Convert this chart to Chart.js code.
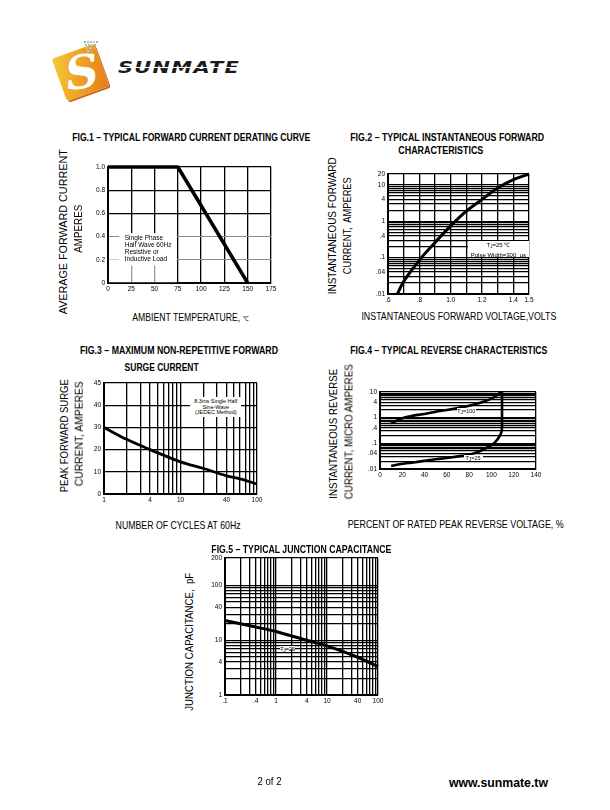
<!DOCTYPE html>
<html><head><meta charset="utf-8">
<script src="https://cdn.jsdelivr.net/npm/chart.js@4.4.1/dist/chart.umd.min.js"></script>
<style>
html,body{margin:0;padding:0;background:#fff;}
body{width:610px;height:810px;position:relative;overflow:hidden;font-family:"Liberation Sans",Arial,sans-serif;color:#000;}
.t{position:absolute;white-space:nowrap;line-height:1;}
canvas{position:absolute;}
.note{position:absolute;font-size:6.5px;line-height:7px;white-space:nowrap;font-family:"Liberation Sans",Arial,sans-serif;}
.sub{font-size:4.5px;vertical-align:-1px;}
</style></head><body>
<div id="logo">
  <div style="position:absolute;left:58px;top:50px;width:45px;height:45px;transform:rotate(-20deg);border-radius:3px;background:linear-gradient(115deg,#f6c93a 0%,#f0a828 40%,#e47d1c 100%);box-shadow:1px 2px 0 #c8661a;"></div>
  <div style="position:absolute;left:61px;top:46px;width:42px;height:52px;font-family:'DejaVu Serif',serif;font-weight:bold;font-style:italic;font-size:46px;line-height:52px;color:#fff;text-align:center;transform:rotate(-8deg);">S</div>
  <div id="dots"></div>
  <div id="brand" style="position:absolute;left:118px;top:60px;font-family:'DejaVu Sans',sans-serif;font-weight:bold;font-style:italic;font-size:16px;line-height:16px;letter-spacing:1px;color:#1b1b1b;transform-origin:left top;">SUNMAT<span style="color:#1b1b1b">E</span></div>
  <div style="position:absolute;left:118px;top:67px;width:124px;height:1px;background:#fff;"></div>
</div>
<script>
// ---------------- DATA ----------------
// Fig.1 forward current derating
const fig1Temp = [0, 75, 150];
const fig1Current = [1.0, 1.0, 0];
const fig1XTicks = [0, 25, 50, 75, 100, 125, 150, 175];
const fig1XLabels = ['0', '25', '50', '75', '100', '125', '150', '175'];
const fig1YTicks = [0, 0.2, 0.4, 0.6, 0.8, 1.0];
const fig1YLabels = ['0', '0.2', '0.4', '0.6', '0.8', '1.0'];

// Fig.2 instantaneous forward characteristics
const fig2Volt = [0.66, 0.7, 0.8, 0.9, 1.0, 1.1, 1.2, 1.3, 1.4, 1.5];
const fig2Amp = [0.01, 0.022, 0.085, 0.26, 0.75, 1.9, 4.0, 8.2, 14, 20];
const fig2XGrid = [0.6, 0.7, 0.8, 0.9, 1.0, 1.1, 1.2, 1.3, 1.4, 1.5];
const fig2XTicks = [0.6, 0.8, 1.0, 1.2, 1.4, 1.5];
const fig2XLabels = ['.6', '.8', '1.0', '1.2', '1.4', '1.5'];
const fig2YTicks = [0.01, 0.04, 0.1, 0.4, 1, 4, 10, 20];
const fig2YLabels = ['.01', '.04', '.1', '.4', '1', '4', '10', '20'];

// Fig.3 surge current
const fig3Cycles = [1, 2, 4, 10, 20, 40, 60, 100];
const fig3Amp = [30, 24.5, 20, 14.5, 11.5, 8.2, 6.8, 4.5];
const fig3XTicks = [1, 4, 10, 40, 100];
const fig3XLabels = ['1', '4', '10', '40', '100'];
const fig3YTicks = [0, 10, 20, 30, 40, 50];
const fig3YLabels = ['0', '10', '20', '30', '40', '45'];

// Fig.4 reverse characteristics
const fig4Pct100 = [10, 20, 30, 40, 50, 60, 70, 80, 90, 100, 105, 108.5];
const fig4Cur100 = [0.6, 0.95, 1.2, 1.4, 1.7, 2.0, 2.4, 2.9, 3.8, 5.5, 7.5, 10];
const fig4Pct25 = [10, 20, 30, 40, 50, 60, 70, 80, 90, 100, 104, 107, 109, 109.5, 109.5];
const fig4Cur25 = [0.013, 0.016, 0.018, 0.021, 0.024, 0.027, 0.031, 0.036, 0.05, 0.085, 0.12, 0.18, 0.28, 0.45, 10];
const fig4XTicks = [0, 20, 40, 60, 80, 100, 120, 140];
const fig4XLabels = ['0', '20', '40', '60', '80', '100', '120', '140'];
const fig4YTicks = [0.01, 0.04, 0.1, 0.4, 1, 4, 10];
const fig4YLabels = ['.01', '.04', '.1', '.4', '1', '4', '10'];

// Fig.5 junction capacitance
const fig5Volt = [0.1, 0.4, 1, 4, 10, 40, 100];
const fig5Cap = [23, 17.5, 14.5, 10, 7.9, 4.9, 3.3];
const fig5XTicks = [0.1, 0.4, 1, 4, 10, 40, 100];
const fig5XLabels = ['.1', '.4', '1', '4', '10', '40', '100'];
const fig5YTicks = [1, 4, 10, 40, 100, 320];
const fig5YLabels = ['1', '4', '10', '40', '100', '200'];

// ---------------- HELPERS ----------------
Chart.defaults.font.family = "'Liberation Sans', Arial, sans-serif";
Chart.defaults.color = '#000';

function logGrid(min, max, limit) {
  const out = [];
  const top = limit || max;
  for (let k = Math.floor(Math.log10(min)); k <= Math.ceil(Math.log10(max)); k++) {
    for (let m = 1; m <= 9; m++) {
      const v = parseFloat((m * Math.pow(10, k)).toPrecision(6));
      if (v >= min * 0.999 && v <= top * 1.001) out.push(v);
    }
  }
  if (out[out.length - 1] < max) out.push(max);
  return out;
}
function same(a, b) { return Math.abs(a - b) <= 1e-9 * Math.max(1e-6, Math.abs(b)); }

function axis(o) {
  return {
    type: o.type || 'linear', min: o.min, max: o.max, position: o.pos,
    afterBuildTicks: s => { s.ticks = o.grid.map(v => ({ value: v })); },
    ticks: {
      autoSkip: false, maxRotation: 0, minRotation: 0, padding: o.pad == null ? 2 : o.pad,
      font: { size: 6.5 }, color: '#000',
      callback: function (v, i, ticks) {
        const val = ticks[i].value;
        const k = o.tickVals.findIndex(t => same(val, t));
        return k >= 0 ? o.tickLabels[k] : '';
      }
    },
    grid: {
      color: ctx => (o.gridColor ? o.gridColor(ctx.tick ? ctx.tick.value : null) : '#000'),
      lineWidth: ctx => (o.gridWidth ? o.gridWidth(ctx.tick ? ctx.tick.value : null) : 1.3),
      drawTicks: false
    },
    border: { display: true, color: '#000', width: 2 }
  };
}

function curve(xs, ys, w, tension) {
  return {
    data: xs.map((x, i) => ({ x: x, y: ys[i] })),
    showLine: true, borderColor: '#000', backgroundColor: '#000',
    borderWidth: w, pointRadius: 0, tension: tension, fill: false, clip: 4,
    borderCapStyle: 'butt', borderJoinStyle: 'round'
  };
}

function makeChart(box, plot, xs, ys, datasets, plugins) {
  const c = document.createElement('canvas');
  const w = box.r - box.l, h = box.b - box.t;
  c.width = w; c.height = h;
  c.style.left = box.l + 'px'; c.style.top = box.t + 'px';
  c.style.width = w + 'px'; c.style.height = h + 'px';
  document.body.appendChild(c);
  const yw = plot.l - box.l, xh = box.b - plot.b;
  xs.afterFit = s => { s.height = xh; s.paddingLeft = 0; s.paddingRight = 0; s.paddingTop = 0; s.paddingBottom = 0; };
  ys.afterFit = s => { s.width = yw; s.paddingLeft = 0; s.paddingRight = 0; s.paddingTop = 0; s.paddingBottom = 0; };
  const chart = new Chart(c, {
    type: 'scatter',
    data: { datasets: datasets },
    options: {
      responsive: false, animation: false, devicePixelRatio: 1,
      layout: { padding: { top: plot.t - box.t, right: box.r - plot.r, left: 0, bottom: 0 } },
      plugins: { legend: { display: false }, tooltip: { enabled: false } },
      scales: { x: xs, y: ys }
    },
    plugins: plugins || []
  });
  chart._box = box;
  return chart;
}

// page px of a data point
function px(chart, x, y) {
  return { x: chart._box.l + chart.scales.x.getPixelForValue(x), y: chart._box.t + chart.scales.y.getPixelForValue(y) };
}
// note box spanning data rectangle
function noteBox(chart, x0, y0, x1, y1, html, style) {
  const a = px(chart, x0, y0), b = px(chart, x1, y1);
  const d = document.createElement('div');
  d.className = 'note';
  d.innerHTML = html;
  d.style.left = Math.min(a.x, b.x) + 'px';
  d.style.top = Math.min(a.y, b.y) + 'px';
  d.style.width = Math.abs(b.x - a.x) + 'px';
  d.style.height = Math.abs(b.y - a.y) + 'px';
  Object.assign(d.style, style || {});
  document.body.appendChild(d);
  return d;
}

function txt(html, cx, cy, len, o) {
  const d = document.createElement('div');
  d.className = 't';
  d.innerHTML = html;
  d.style.fontSize = o.size + 'px';
  d.style.fontWeight = o.bold ? 'bold' : 'normal';
  if (o.family) d.style.fontFamily = o.family;
  document.body.appendChild(d);
  const r = d.getBoundingClientRect();
  d.style.left = (cx - r.width / 2) + 'px';
  d.style.top = (cy - r.height / 2) + 'px';
  const s = len / r.width;
  d.style.transformOrigin = 'center center';
  d.style.transform = (o.rot ? 'rotate(-90deg) ' : '') + 'scaleX(' + s + ')';
  return d;
}

// ---------------- FIG.1 ----------------
const fig1Fade = {
  id: 'fig1Fade',
  beforeDatasetsDraw(chart) {
    const { ctx, scales: { x, y } } = chart;
    ctx.save();
    ctx.fillStyle = 'rgba(255,255,255,0.6)';
    ctx.fillRect(x.getPixelForValue(1), y.getPixelForValue(0.395), x.getPixelForValue(74) - x.getPixelForValue(1), y.getPixelForValue(0.005) - y.getPixelForValue(0.395));
    ctx.fillStyle = '#fff';
    ctx.fillRect(x.getPixelForValue(12), y.getPixelForValue(0.43), x.getPixelForValue(74) - x.getPixelForValue(12), y.getPixelForValue(0.15) - y.getPixelForValue(0.43));
    ctx.restore();
  }
};
const ch1 = makeChart(
  { l: 80, t: 155, r: 282, b: 300 }, { l: 108, t: 167, r: 271, b: 283 },
  axis({ min: 0, max: 175, grid: fig1XTicks, tickVals: fig1XTicks, tickLabels: fig1XLabels, pad: 2 }),
  axis({ min: 0, max: 1.0, grid: fig1YTicks, tickVals: fig1YTicks, tickLabels: fig1YLabels, pad: 3,
    gridColor: v => (same(v, 0.2) || same(v, 0.4)) ? '#8a8a8a' : '#000',
    gridWidth: v => (same(v, 0.2) || same(v, 0.4)) ? 1 : 1.3 }),
  [curve(fig1Temp, fig1Current, 3.5, 0)], [fig1Fade]);
noteBox(ch1, 18, 0.425, 74, 0.15, 'Single Phase<br>Half Wave 60Hz<br>Resistive or<br>Inductive Load', {});

// ---------------- FIG.2 ----------------
const ch2 = makeChart(
  { l: 360, t: 165, r: 540, b: 305 }, { l: 388, t: 174, r: 529, b: 294 },
  axis({ min: 0.6, max: 1.5, grid: fig2XGrid, tickVals: fig2XTicks, tickLabels: fig2XLabels, pad: 2 }),
  axis({ type: 'logarithmic', min: 0.01, max: 20, grid: logGrid(0.01, 20, 10), tickVals: fig2YTicks, tickLabels: fig2YLabels, pad: 3 }),
  [curve(fig2Volt, fig2Amp, 3, 0.35)]);
noteBox(ch2, 1.11, 0.29, 1.5, 0.105, 'T<span class="sub">J</span>=25 ℃<br>Pulse Width=300 &nbsp;μs',
  { background: '#fff', textAlign: 'center', fontSize: '6px', lineHeight: '8px', paddingTop: '0px', boxSizing: 'border-box' });

// ---------------- FIG.3 ----------------
const ch3 = makeChart(
  { l: 80, t: 375, r: 268, b: 505 }, { l: 104, t: 383, r: 257, b: 494 },
  axis({ type: 'logarithmic', min: 1, max: 100, grid: logGrid(1, 100), tickVals: fig3XTicks, tickLabels: fig3XLabels, pad: 2 }),
  axis({ min: 0, max: 50, grid: fig3YTicks, tickVals: fig3YTicks, tickLabels: fig3YLabels, pad: 3 }),
  [curve(fig3Cycles, fig3Amp, 2.8, 0.35)]);
noteBox(ch3, 13.5, 43.5, 62, 34.5, '8.3ms Single Half<br>Sine-Wave<br>(JEDEC Method)',
  { background: '#fff', textAlign: 'center', fontSize: '5.5px', lineHeight: '5.5px', paddingTop: '2px', boxSizing: 'border-box' });

// ---------------- FIG.4 ----------------
const ch4 = makeChart(
  { l: 355, t: 383, r: 548, b: 480 }, { l: 380, t: 392, r: 536, b: 469 },
  axis({ min: 0, max: 140, grid: fig4XTicks, tickVals: fig4XTicks, tickLabels: fig4XLabels, pad: 2,
    gridColor: v => same(v, 140) ? '#000' : 'rgba(0,0,0,0)' }),
  axis({ type: 'logarithmic', min: 0.01, max: 10, grid: logGrid(0.01, 10), tickVals: fig4YTicks, tickLabels: fig4YLabels, pad: 3 }),
  [curve(fig4Pct100, fig4Cur100, 2.6, 0.3), curve(fig4Pct25, fig4Cur25, 2.6, 0.15)]);
noteBox(ch4, 69, 2.45, 86, 1.65, 'T<span class="sub">J</span>=100',
  { background: '#fff', textAlign: 'center', fontSize: '5.5px', lineHeight: '6px' });
noteBox(ch4, 75, 0.034, 92, 0.0255, 'T<span class="sub">J</span>=25',
  { background: '#fff', textAlign: 'center', fontSize: '5.5px', lineHeight: '6px' });

// ---------------- FIG.5 ----------------
const ch5 = makeChart(
  { l: 200, t: 550, r: 390, b: 706 }, { l: 225, t: 558, r: 378, b: 695 },
  axis({ type: 'logarithmic', min: 0.1, max: 100, grid: logGrid(0.1, 100), tickVals: fig5XTicks, tickLabels: fig5XLabels, pad: 2 }),
  axis({ type: 'logarithmic', min: 1, max: 320, grid: logGrid(1, 320, 100), tickVals: fig5YTicks, tickLabels: fig5YLabels, pad: 3 }),
  [curve(fig5Volt, fig5Cap, 3, 0.3)]);
noteBox(ch5, 1.2, 8.0, 2.4, 6.9, 'T<span class="sub">J</span>=25',
  { background: '#fff', textAlign: 'center', fontSize: '5.5px', lineHeight: '6px' });

// ---------------- TEXT ----------------
const B = { size: 10, bold: true };
txt('FIG.1 – TYPICAL FORWARD CURRENT DERATING CURVE', 191, 138, 238, B);
txt('AVERAGE FORWARD CURRENT', 64, 232, 165, { size: 11.5, rot: true });
txt('AMPERES', 79, 229, 48, { size: 11.5, rot: true });
txt('AMBIENT TEMPERATURE, <span style="font-size:7px">℃</span>', 190, 317, 116, { size: 10.5 });

txt('FIG.2 – TYPICAL INSTANTANEOUS FORWARD', 447, 138, 194, B);
txt('CHARACTERISTICS', 441, 151, 85, B);
txt('INSTANTANEOUS FORWARD', 333, 226, 137, { size: 11.5, rot: true });
txt('CURRENT,&nbsp; AMPERES', 348, 226, 97, { size: 11.5, rot: true });
txt('INSTANTANEOUS FORWARD VOLTAGE,VOLTS', 459, 316, 195, { size: 10.5 });

txt('FIG.3 – MAXIMUM NON-REPETITIVE FORWARD', 179, 351, 198, B);
txt('SURGE CURRENT', 162, 368, 74, B);
txt('PEAK FORWARD SURGE', 64, 436, 113, { size: 11.5, rot: true });
txt('CURRENT, AMPERES', 79, 434, 105, { size: 11.5, rot: true });
txt('NUMBER OF CYCLES AT 60Hz', 178, 525, 125, { size: 10.5 });

txt('FIG.4 – TYPICAL REVERSE CHARACTERISTICS', 449, 351, 197, B);
txt('INSTANTANEOUS REVERSE', 334, 434, 130, { size: 11.5, rot: true });
txt('CURRENT, MICRO AMPERES', 349, 432, 135, { size: 11.5, rot: true });
txt('PERCENT OF RATED PEAK REVERSE VOLTAGE, %', 456, 524, 216, { size: 10.5 });

txt('FIG.5 – TYPICAL JUNCTION CAPACITANCE', 301, 550, 180, B);
txt('JUNCTION CAPACITANCE,&nbsp; pF', 190, 642, 138, { size: 11.5, rot: true });

txt('2 of 2', 270, 782, 24, { size: 10 });
txt('www.sunmate.tw', 498, 783, 99, { size: 12, bold: true });

// brand text width
(function () {
  const b = document.getElementById('brand');
  const w = b.getBoundingClientRect().width;
  b.style.transform = 'scaleX(' + (122 / w) + ')';
  const dots = document.getElementById('dots');
  const cols = ['#9cc08a', '#b8b8b8', '#a8c898', '#c8c8c8'];
  for (let r = 0; r < 4; r++) for (let c = 0; c < 5 - r; c++) {
    const d = document.createElement('div');
    d.style.cssText = 'position:absolute;width:2px;height:2px;background:' + cols[(r + c) % 4] + ';left:' + (84 + c * 3 + r) + 'px;top:' + (41 + r * 3) + 'px;';
    dots.appendChild(d);
  }
})();
</script>
</body></html>
